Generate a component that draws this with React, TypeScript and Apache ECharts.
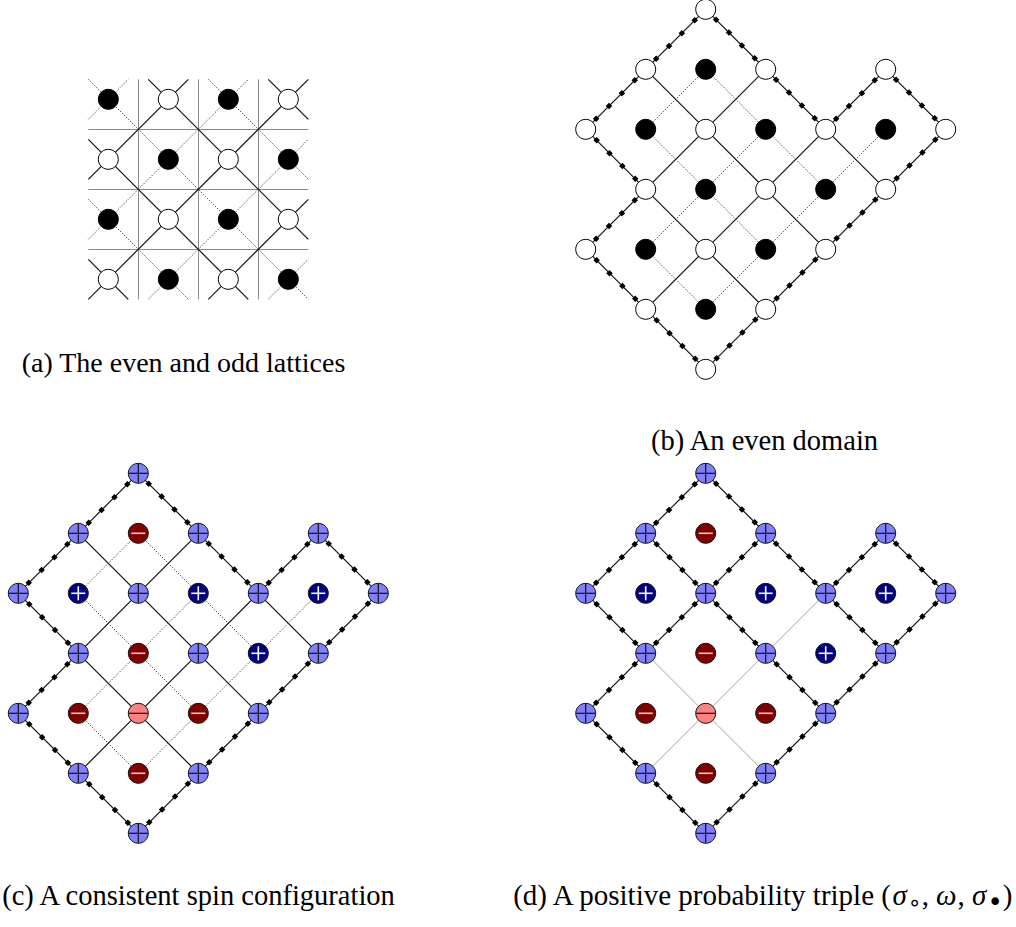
import React, { useEffect, useRef } from 'react';
import * as echarts from 'echarts';

// ---------- Panel (a): a 4x4 window of the plane ----------
const latticeCols = [0, 1, 2, 3];
const latticeRows = [0, 1, 2, 3];
const dualGridLines = [0.5, 1.5, 2.5];
const windowRange = [-1 / 3, 10 / 3];
const diagonalOffsets = [-4, -3, -2, -1, 0, 1, 2, 3, 4, 5, 6, 7];

// ---------- Domain used in (b), (c), (d) ----------
const whiteSites = [[2, 0], [1, 1], [3, 1], [5, 1], [0, 2], [2, 2], [4, 2], [6, 2], [1, 3], [3, 3], [5, 3], [0, 4], [2, 4], [4, 4], [1, 5], [3, 5], [2, 6]];
const whiteSpins = [1, 1, 1, 1, 1, 1, 1, 1, 1, 1, 1, 1, -1, 1, 1, 1, 1];
const blackSites = [[2, 1], [1, 2], [3, 2], [5, 2], [2, 3], [4, 3], [1, 4], [3, 4], [2, 5]];
const blackSpins = [-1, 1, 1, 1, -1, 1, -1, -1, -1];
const boundaryCycle = [[2, 0], [1, 1], [0, 2], [1, 3], [0, 4], [1, 5], [2, 6], [3, 5], [4, 4], [5, 3], [6, 2], [5, 1], [4, 2], [3, 1], [2, 0]];
const interiorWhiteEdges = [
  [[1, 1], [2, 2]], [[3, 1], [2, 2]], [[2, 2], [1, 3]], [[2, 2], [3, 3]], [[4, 2], [3, 3]], [[4, 2], [5, 3]],
  [[1, 3], [2, 4]], [[3, 3], [2, 4]], [[3, 3], [4, 4]], [[2, 4], [1, 5]], [[2, 4], [3, 5]],
];
const omegaOpen = [1, 1, 1, 1, 0, 1, 0, 0, 1, 0, 0];
const blackEdges = [
  [[2, 1], [1, 2]], [[2, 1], [3, 2]], [[1, 2], [2, 3]], [[3, 2], [2, 3]], [[3, 2], [4, 3]], [[5, 2], [4, 3]],
  [[2, 3], [1, 4]], [[2, 3], [3, 4]], [[4, 3], [3, 4]], [[1, 4], [2, 5]], [[3, 4], [2, 5]],
];

const captions = [
  '(a) The even and odd lattices',
  '(b) An even domain',
  '(c) A consistent spin configuration',
  '{n|(d) A positive probability triple (}{i|σ}{s|∘}{n|, }{i|ω}{n|, }{i|σ}{b|•}{n|)}',
];

// ---------- styling / layout ----------
const LIGHT_BLUE = '#8080ff';
const PINK = '#ff8080';
const NAVY = '#000080';
const DARK_RED = '#800000';
const FONT = '"Liberation Serif", "DejaVu Serif", serif';

const grids = [
  { left: 88.3, top: 79.3, width: 220, height: 220 },
  { left: 555.7, top: 0.3, width: 420, height: 378 },
  { left: 0.3, top: 455.3, width: 408, height: 396 },
  { left: 555.7, top: 455.3, width: 420, height: 396 },
];
const xRanges = [windowRange, [-0.5, 6.5], [-0.3, 6.5], [-0.5, 6.5]];
const yRanges = [windowRange, [-0.15, 6.15], [-0.3, 6.3], [-0.3, 6.3]];

function clipDiag(kind: string, c: number, a: number, b: number) {
  if (kind === 'diff') {
    const x1 = Math.max(a, a + c), x2 = Math.min(b, b + c);
    if (x2 <= x1) return null;
    return [[x1, x1 - c], [x2, x2 - c]];
  }
  const x1 = Math.max(a, c - b), x2 = Math.min(b, c - a);
  if (x2 <= x1) return null;
  return [[x1, c - x1], [x2, c - x2]];
}

function linesSeries(k: number, segs: any[], style: any, z: number) {
  return {
    type: 'lines', coordinateSystem: 'cartesian2d', xAxisIndex: k, yAxisIndex: k,
    polyline: false, silent: true, z, clip: false,
    data: segs.map((s) => ({ coords: s })),
    lineStyle: { opacity: 1, curveness: 0, ...style },
  };
}

function scatterSeries(k: number, items: any[], symbol: string, z: number) {
  return {
    type: 'scatter', xAxisIndex: k, yAxisIndex: k, silent: true, clip: false, z,
    symbol, data: items,
  };
}

const solidStyle = { color: '#111', width: 1.2 };
const dottedStyle = { color: '#222', width: 0.8, type: [1.4, 1.4] };
const dotsStyle = { color: '#000', width: 4.6, type: [4.6, 13.6], dashOffset: 5.4 };
const greyStyle = { color: '#c4c4c4', width: 1.2 };

function boundarySegs() {
  const segs: number[][][] = [];
  for (let i = 0; i + 1 < boundaryCycle.length; i++) segs.push([boundaryCycle[i], boundaryCycle[i + 1]]);
  return segs;
}

function plainNodes(k: number) {
  const items: any[] = [];
  whiteSites.forEach((p) => items.push({ value: p, itemStyle: { color: '#fff', borderColor: '#000', borderWidth: 1, opacity: 1 } }));
  blackSites.forEach((p) => items.push({ value: p, itemStyle: { color: '#000', borderColor: '#000', borderWidth: 1, opacity: 1 } }));
  return scatterSeries(k, items, 'circle', 10);
}

function spinNodes(k: number) {
  const circles: any[] = [];
  const hBars: any[] = [];
  const vBars: any[] = [];
  whiteSites.forEach((p, i) => {
    const up = whiteSpins[i] > 0;
    circles.push({ value: p, symbolSize: 20, itemStyle: { color: up ? LIGHT_BLUE : PINK, borderColor: '#111', borderWidth: 1, opacity: 1 } });
    hBars.push({ value: p, symbolSize: [19, 1.2], itemStyle: { color: '#111', opacity: 1 } });
    if (up) vBars.push({ value: p, symbolSize: [1.2, 19], itemStyle: { color: '#111', opacity: 1 } });
  });
  blackSites.forEach((p, i) => {
    const up = blackSpins[i] > 0;
    circles.push({ value: p, symbolSize: 20, itemStyle: { color: up ? NAVY : DARK_RED, borderColor: '#111', borderWidth: 1, opacity: 1 } });
    hBars.push({ value: p, symbolSize: [14, 1.6], itemStyle: { color: up ? '#fff' : '#f3d0d0', opacity: 1 } });
    if (up) vBars.push({ value: p, symbolSize: [1.6, 14], itemStyle: { color: '#fff', opacity: 1 } });
  });
  return [
    scatterSeries(k, circles, 'circle', 10),
    scatterSeries(k, hBars, 'rect', 11),
    scatterSeries(k, vBars, 'rect', 11),
  ];
}

function buildOption() {
  const series: any[] = [];

  // ----- (a) -----
  const [a, b] = windowRange;
  const greySegs: number[][][] = [];
  dualGridLines.forEach((v) => {
    greySegs.push([[v, a], [v, b]]);
    greySegs.push([[a, v], [b, v]]);
  });
  series.push(linesSeries(0, greySegs, { color: '#8a8a8a', width: 1 }, 1));
  const solidA: any[] = [];
  const dottedA: any[] = [];
  diagonalOffsets.forEach((c) => {
    ['diff', 'sum'].forEach((kind) => {
      const s = clipDiag(kind, c, a, b);
      if (!s) return;
      if (Math.abs(c) % 2 === 1) solidA.push(s); else dottedA.push(s);
    });
  });
  series.push(linesSeries(0, solidA, solidStyle, 2));
  series.push(linesSeries(0, dottedA, dottedStyle, 2));
  const nodesA: any[] = [];
  latticeRows.forEach((r) => latticeCols.forEach((i) => {
    const white = (i + r) % 2 === 1;
    nodesA.push({ value: [i, r], itemStyle: { color: white ? '#fff' : '#000', borderColor: '#000', borderWidth: 1, opacity: 1 } });
  }));
  series.push({ ...scatterSeries(0, nodesA, 'circle', 10), symbolSize: 20 });

  // ----- (b) and (c): domain with both lattices -----
  [1, 2].forEach((k) => {
    series.push(linesSeries(k, interiorWhiteEdges, solidStyle, 2));
    series.push(linesSeries(k, blackEdges, dottedStyle, 2));
    series.push(linesSeries(k, boundarySegs(), solidStyle, 2));
    series.push(linesSeries(k, boundarySegs(), dotsStyle, 3));
  });
  series.push({ ...plainNodes(1), symbolSize: 20 });
  series.push(...spinNodes(2));

  // ----- (d): configuration with omega -----
  const openEdges = interiorWhiteEdges.filter((_, i) => omegaOpen[i] === 1);
  const closedEdges = interiorWhiteEdges.filter((_, i) => omegaOpen[i] === 0);
  series.push(linesSeries(3, closedEdges, greyStyle, 2));
  series.push(linesSeries(3, [...boundarySegs(), ...openEdges], solidStyle, 2));
  series.push(linesSeries(3, [...boundarySegs(), ...openEdges], dotsStyle, 3));
  series.push(...spinNodes(3));

  const capPos = [[183.5, 362.5], [764.5, 440.5], [198.5, 895], [762, 895]];
  const capSize = [28, 28.5, 28.5, 29];
  const graphic = captions.map((t, i) => ({
    type: 'text', x: capPos[i][0], y: capPos[i][1], silent: true,
    style: {
      text: t, fill: '#000', font: `${capSize[i]}px ${FONT}`, fontSize: capSize[i], fontFamily: FONT,
      align: 'center', verticalAlign: 'middle', textAlign: 'center', textVerticalAlign: 'middle',
      rich: {
        n: { fontSize: capSize[i], fontFamily: FONT, fill: '#000' },
        i: { fontSize: capSize[i], fontFamily: FONT, fontStyle: 'italic', fill: '#000', padding: [0, 1, 0, 0] },
        s: { fontSize: 22, fontFamily: '"DejaVu Sans", sans-serif', fill: '#000', padding: [14, 0, 0, 0] },
        b: { fontSize: 26, fontFamily: '"DejaVu Sans", sans-serif', fill: '#000', padding: [14, 0, 0, 0] },
      },
    },
  }));

  return {
    animation: false,
    backgroundColor: '#fff',
    grid: grids.map((g) => ({ ...g, containLabel: false, show: false })),
    xAxis: grids.map((_, k) => ({ type: 'value', gridIndex: k, min: xRanges[k][0], max: xRanges[k][1], show: false, splitLine: { show: false } })),
    yAxis: grids.map((_, k) => ({ type: 'value', gridIndex: k, min: yRanges[k][0], max: yRanges[k][1], inverse: true, show: false, splitLine: { show: false } })),
    series,
    graphic,
  };
}

export default function App() {
  const ref = useRef<HTMLDivElement>(null);
  useEffect(() => {
    const chart = echarts.init(ref.current!, null, { renderer: 'svg' });
    chart.setOption(buildOption() as any);
    return () => chart.dispose();
  }, []);
  return <div ref={ref} style={{ position: 'absolute', left: 0, top: 0, width: 1016, height: 927, background: '#fff' }} />;
}
